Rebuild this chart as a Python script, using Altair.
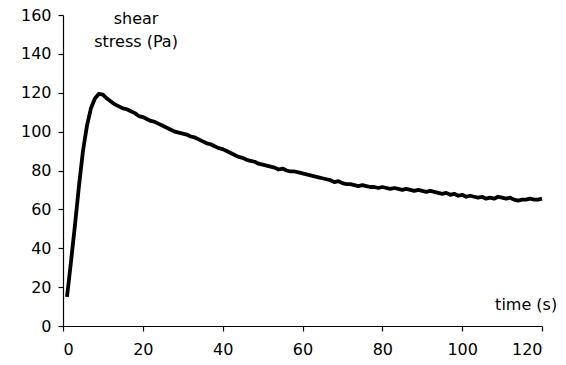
import altair as alt
import pandas as pd

time_s = list(range(1, 121))
stress_pa = [
    15, 33, 52, 72, 90, 103, 112, 117, 119.5, 119,
    117, 115.5, 114, 113, 112, 111.5, 110.5, 109.5, 108, 107.5,
    106.5, 105.5, 105, 104, 103, 102, 101, 100, 99.5, 99,
    98.5, 97.5, 97, 96, 95, 94, 93.5, 92.5, 91.5, 91,
    90, 89, 88, 87, 86.5, 85.5, 85, 84.5, 83.5, 83,
    82.5, 82, 81.5, 80.5, 81, 80, 79.5, 79.5, 79, 78.5,
    78, 77.5, 77, 76.5, 76, 75.5, 75, 74, 74.5, 73.5,
    73, 73, 72.5, 72, 72.5, 72, 71.5, 71.5, 71, 71.5,
    71, 70.5, 71, 70.5, 70, 70.5, 70, 69.5, 70, 69.5,
    69, 69.5, 69, 68.5, 68, 68.5, 67.5, 68, 67, 67.5,
    66.5, 67, 66.5, 66, 66.5, 65.5, 66, 65.5, 66.5, 66,
    65.5, 66, 65, 64.5, 65, 65, 65.5, 65, 65, 65.5,
]

x_ticks = [0, 20, 40, 60, 80, 100, 120]
y_ticks = [0, 20, 40, 60, 80, 100, 120, 140, 160]

df = pd.DataFrame({"t": time_s, "s": stress_pa})

FONT = "DejaVu Sans"
FS = 16

x_scale = alt.Scale(domain=[0, 120], nice=False, zero=False)
y_scale = alt.Scale(domain=[0, 160], nice=False)

axis_common = dict(
    grid=False, domainColor="black", tickColor="black", domainWidth=1.2,
    tickWidth=1.2, tickSize=5, labelFont=FONT, labelFontSize=FS,
    labelColor="black", title=None, labelOverlap=False,
)
x_axis = alt.Axis(values=x_ticks, labelPadding=10, **axis_common)
y_axis = alt.Axis(values=y_ticks, labelPadding=7, **axis_common)

line = alt.Chart(df).mark_line(color="black", strokeWidth=3.8, strokeJoin="round").encode(
    x=alt.X("t:Q", scale=x_scale, axis=x_axis),
    y=alt.Y("s:Q", scale=y_scale, axis=y_axis),
)

ylab = pd.DataFrame({"x": [18.3, 18.3], "y": [158, 146], "label": ["shear", "stress (Pa)"]})
ylab_mark = alt.Chart(ylab).mark_text(
    font=FONT, fontSize=FS, color="black", align="center", baseline="middle"
).encode(
    x=alt.X("x:Q", scale=x_scale, axis=x_axis),
    y=alt.Y("y:Q", scale=y_scale, axis=y_axis),
    text="label:N",
)

xlab = pd.DataFrame({"x": [123.8], "y": [10.8], "label": ["time (s)"]})
xlab_mark = alt.Chart(xlab).mark_text(
    font=FONT, fontSize=FS, color="black", align="right", baseline="middle"
).encode(
    x=alt.X("x:Q", scale=x_scale, axis=x_axis),
    y=alt.Y("y:Q", scale=y_scale, axis=y_axis),
    text="label:N",
)

chart = alt.layer(line, ylab_mark, xlab_mark).properties(
    width=479, height=311,
    background="white",
    autosize=alt.AutoSizeParams(type="none"),
    padding={"left": 63, "top": 15, "right": 24, "bottom": 39},
).configure_view(stroke="transparent", strokeWidth=0)

chart.save("out.html", embed_options={"renderer": "svg", "actions": False})
